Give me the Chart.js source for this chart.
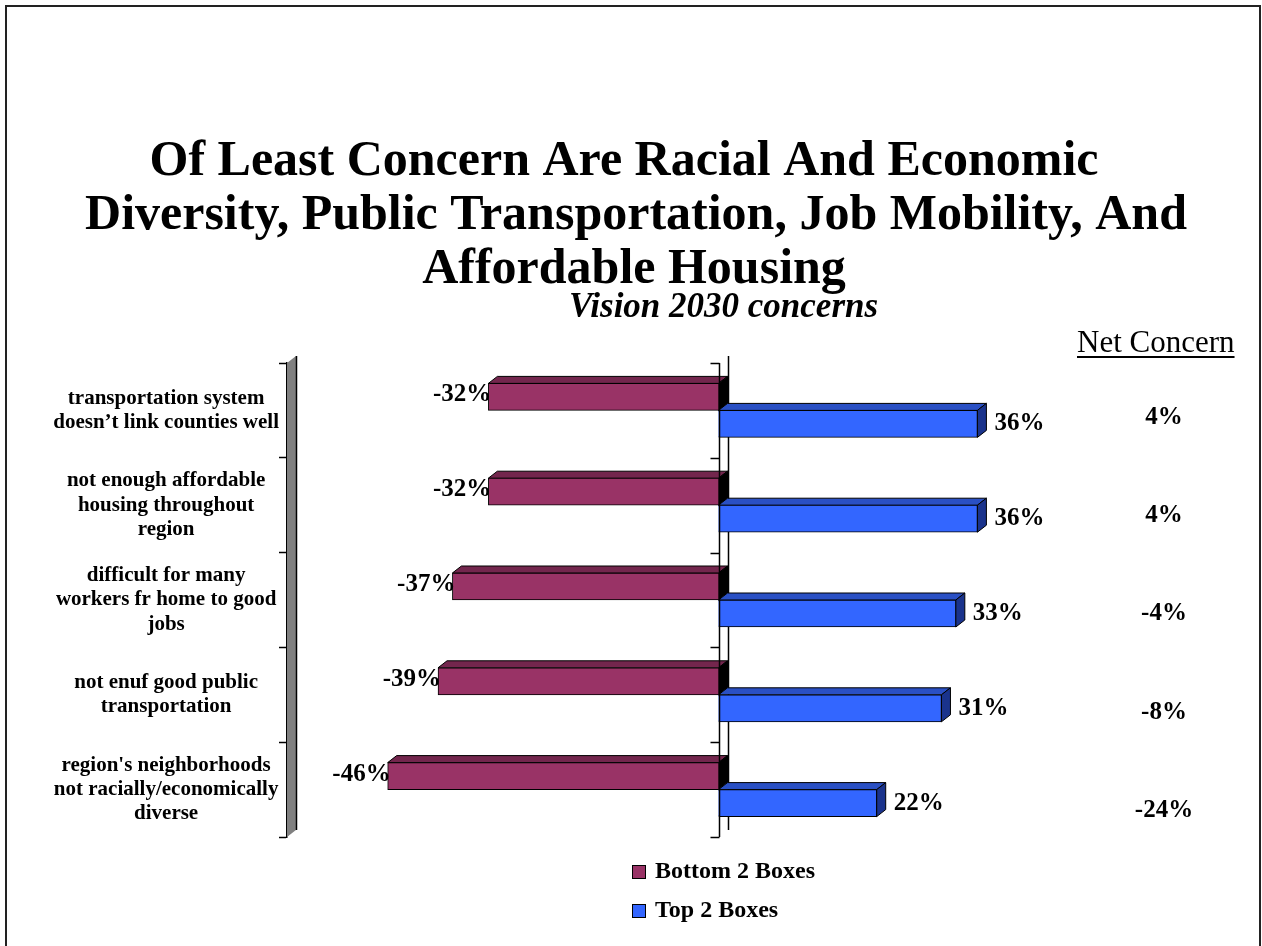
<!DOCTYPE html>
<html><head><meta charset="utf-8">
<script src="https://cdn.jsdelivr.net/npm/chart.js@4"></script>
<style>html,body{margin:0;padding:0;background:#fff;} canvas{display:block;}</style>
</head><body>
<canvas id="c" width="1262" height="946"></canvas>
<script>
const categories = [
  ["transportation system", "doesn\u2019t link counties well"],
  ["not enough affordable", "housing throughout", "region"],
  ["difficult for many", "workers fr home to good", "jobs"],
  ["not enuf good public", "transportation"],
  ["region's neighborhoods", "not racially/economically", "diverse"]
];
const bottom2Boxes = [-32, -32, -37, -39, -46];
const top2Boxes = [36, 36, 33, 31, 22];
const netConcern = [4, 4, -4, -8, -24];
const seriesNames = ["Bottom 2 Boxes", "Top 2 Boxes"];
const titleLines = ["Of Least Concern Are Racial And Economic", "Diversity, Public Transportation, Job Mobility, And", "Affordable Housing"];
const subtitleText = "Vision 2030 concerns";
const netHeader = "Net Concern";

const SERIF = '"Times New Roman", "Liberation Serif", serif';
const DX = 9, DY = 7;
const faceColors = [
  { front: '#993366', top: '#73264d', side: '#000000' },
  { front: '#3366ff', top: '#2a50c4', side: '#1a338c' }
];

function poly(ctx, pts, fill) {
  ctx.beginPath();
  ctx.moveTo(pts[0][0], pts[0][1]);
  for (let i = 1; i < pts.length; i++) ctx.lineTo(pts[i][0], pts[i][1]);
  ctx.closePath();
  ctx.fillStyle = fill; ctx.fill();
  ctx.strokeStyle = '#000'; ctx.lineWidth = 1; ctx.stroke();
}

const decor = {
  id: 'decor',
  beforeDatasetsDraw(chart) {
    const ctx = chart.ctx, ca = chart.chartArea;
    const xs = chart.scales.x;
    const x0 = xs.getPixelForValue(0);
    ctx.save();
    // gray wall on the category axis
    ctx.beginPath();
    ctx.moveTo(ca.left, ca.top);
    ctx.lineTo(ca.left + DX, ca.top - DY);
    ctx.lineTo(ca.left + DX, ca.bottom - DY);
    ctx.lineTo(ca.left, ca.bottom);
    ctx.closePath();
    ctx.fillStyle = '#808080'; ctx.fill();
    ctx.beginPath();
    ctx.moveTo(ca.left + DX + 0.5, ca.top - DY);
    ctx.lineTo(ca.left + DX + 0.5, ca.bottom - DY);
    ctx.strokeStyle = '#000'; ctx.lineWidth = 1.5; ctx.stroke();
    // back zero line
    ctx.beginPath();
    ctx.moveTo(Math.round(x0 + DX) + 0.5, ca.top - DY);
    ctx.lineTo(Math.round(x0 + DX) + 0.5, ca.bottom - DY);
    ctx.lineWidth = 1.5; ctx.stroke();
    // 3D faces
    chart.data.datasets.forEach((ds, di) => {
      const meta = chart.getDatasetMeta(di);
      const fc = faceColors[di];
      meta.data.forEach(el => {
        const p = el.getProps(['x', 'y', 'base', 'height'], true);
        const l = Math.min(p.x, p.base), r = Math.max(p.x, p.base);
        const t = p.y - p.height / 2, b = p.y + p.height / 2;
        poly(ctx, [[l, t], [r, t], [r + DX, t - DY], [l + DX, t - DY]], fc.top);
        poly(ctx, [[r, t], [r + DX, t - DY], [r + DX, b - DY], [r, b]], fc.side);
      });
    });
    ctx.restore();
  },
  afterDatasetsDraw(chart) {
    const ctx = chart.ctx, ca = chart.chartArea;
    const xs = chart.scales.x, ys = chart.scales.y;
    const x0 = Math.round(xs.getPixelForValue(0)) + 0.5;
    ctx.save();
    // front zero line with ticks at category boundaries
    ctx.strokeStyle = '#000'; ctx.lineWidth = 1.5;
    ctx.beginPath();
    ctx.moveTo(x0, ca.top); ctx.lineTo(x0, ca.bottom);
    const n = chart.data.labels.length;
    const step = (ca.bottom - ca.top) / n;
    for (let i = 0; i <= n; i++) {
      const yy = Math.round(ca.top + i * step) + 0.5;
      ctx.moveTo(x0 - 9, yy); ctx.lineTo(x0, yy);
    }
    ctx.stroke();
    // value labels
    ctx.fillStyle = '#000';
    ctx.font = 'bold 25px ' + SERIF;
    ctx.textBaseline = 'middle';
    chart.data.datasets.forEach((ds, di) => {
      const meta = chart.getDatasetMeta(di);
      meta.data.forEach((el, i) => {
        const p = el.getProps(['x', 'y', 'base', 'height'], true);
        const v = ds.data[i];
        if (v < 0) {
          ctx.textAlign = 'right';
          ctx.fillText(v + '%', p.x + 3, p.y - 2);
        } else {
          ctx.textAlign = 'left';
          ctx.fillText(v + '%', p.x + 17, p.y);
        }
      });
    });
    // net concern column
    ctx.font = 'bold 25px ' + SERIF;
    ctx.textAlign = 'center';
    const nx = ca.right + 14;
    netConcern.forEach((v, i) => {
      ctx.fillText(v + '%', nx, ys.getPixelForValue(i) + 7 + i * 3.5);
    });
    ctx.restore();
  },
  afterDraw(chart) {
    const ctx = chart.ctx, ca = chart.chartArea;
    ctx.save();
    ctx.fillStyle = '#000';
    // title
    ctx.font = 'bold 50px ' + SERIF;
    ctx.textAlign = 'center'; ctx.textBaseline = 'middle';
    const centers = [624, 636, 634];
    titleLines.forEach((t, i) => ctx.fillText(t, centers[i], 162 + i * 54));
    // subtitle
    ctx.font = 'italic bold 35px ' + SERIF;
    ctx.fillText(subtitleText, (ca.left + ca.right) / 2 + 5, 308);
    // net concern header
    ctx.font = '31px ' + SERIF;
    ctx.textAlign = 'left'; ctx.textBaseline = 'alphabetic';
    const hx = 1077;
    ctx.fillText(netHeader, hx, 352);
    const w = ctx.measureText(netHeader).width;
    ctx.fillRect(hx, 356, w, 2);
    // legend
    ctx.font = 'bold 24px ' + SERIF;
    ctx.textBaseline = 'middle';
    chart.data.datasets.forEach((ds, i) => {
      const y = 872 + i * 39;
      ctx.fillStyle = ds.backgroundColor;
      ctx.fillRect(632, y - 7, 14, 14);
      ctx.strokeStyle = '#000'; ctx.lineWidth = 1;
      ctx.strokeRect(632.5, y - 6.5, 13, 13);
      ctx.fillStyle = '#000';
      ctx.fillText(ds.label, 655, y);
    });
    // frame
    ctx.strokeStyle = '#222'; ctx.lineWidth = 2;
    ctx.strokeRect(6, 6, 1254, 950);
    ctx.restore();
  }
};

new Chart(document.getElementById('c'), {
  type: 'bar',
  data: {
    labels: categories,
    datasets: [
      { label: seriesNames[0], data: bottom2Boxes, backgroundColor: faceColors[0].front, borderColor: '#000', borderWidth: 1, barThickness: 27 },
      { label: seriesNames[1], data: top2Boxes, backgroundColor: faceColors[1].front, borderColor: '#000', borderWidth: 1, barThickness: 27 }
    ]
  },
  options: {
    indexAxis: 'y',
    responsive: false,
    animation: false,
    devicePixelRatio: 1,
    layout: { padding: { top: 363, bottom: 109, left: 0, right: 112 } },
    plugins: { legend: { display: false }, title: { display: false }, tooltip: { enabled: false } },
    scales: {
      x: { display: false, min: -60, max: 60 },
      y: {
        afterFit(s) { s.width = 287; },
        grid: { drawOnChartArea: false, drawTicks: true, tickLength: 8, color: '#000', tickWidth: 1.5, offset: true },
        border: { display: true, color: '#000', width: 1.5 },
        ticks: { color: '#000', padding: 0, crossAlign: 'center', font: { family: SERIF, size: 21, weight: 'bold', lineHeight: 1.15 } }
      }
    }
  },
  plugins: [decor]
});
</script>
</body></html>
